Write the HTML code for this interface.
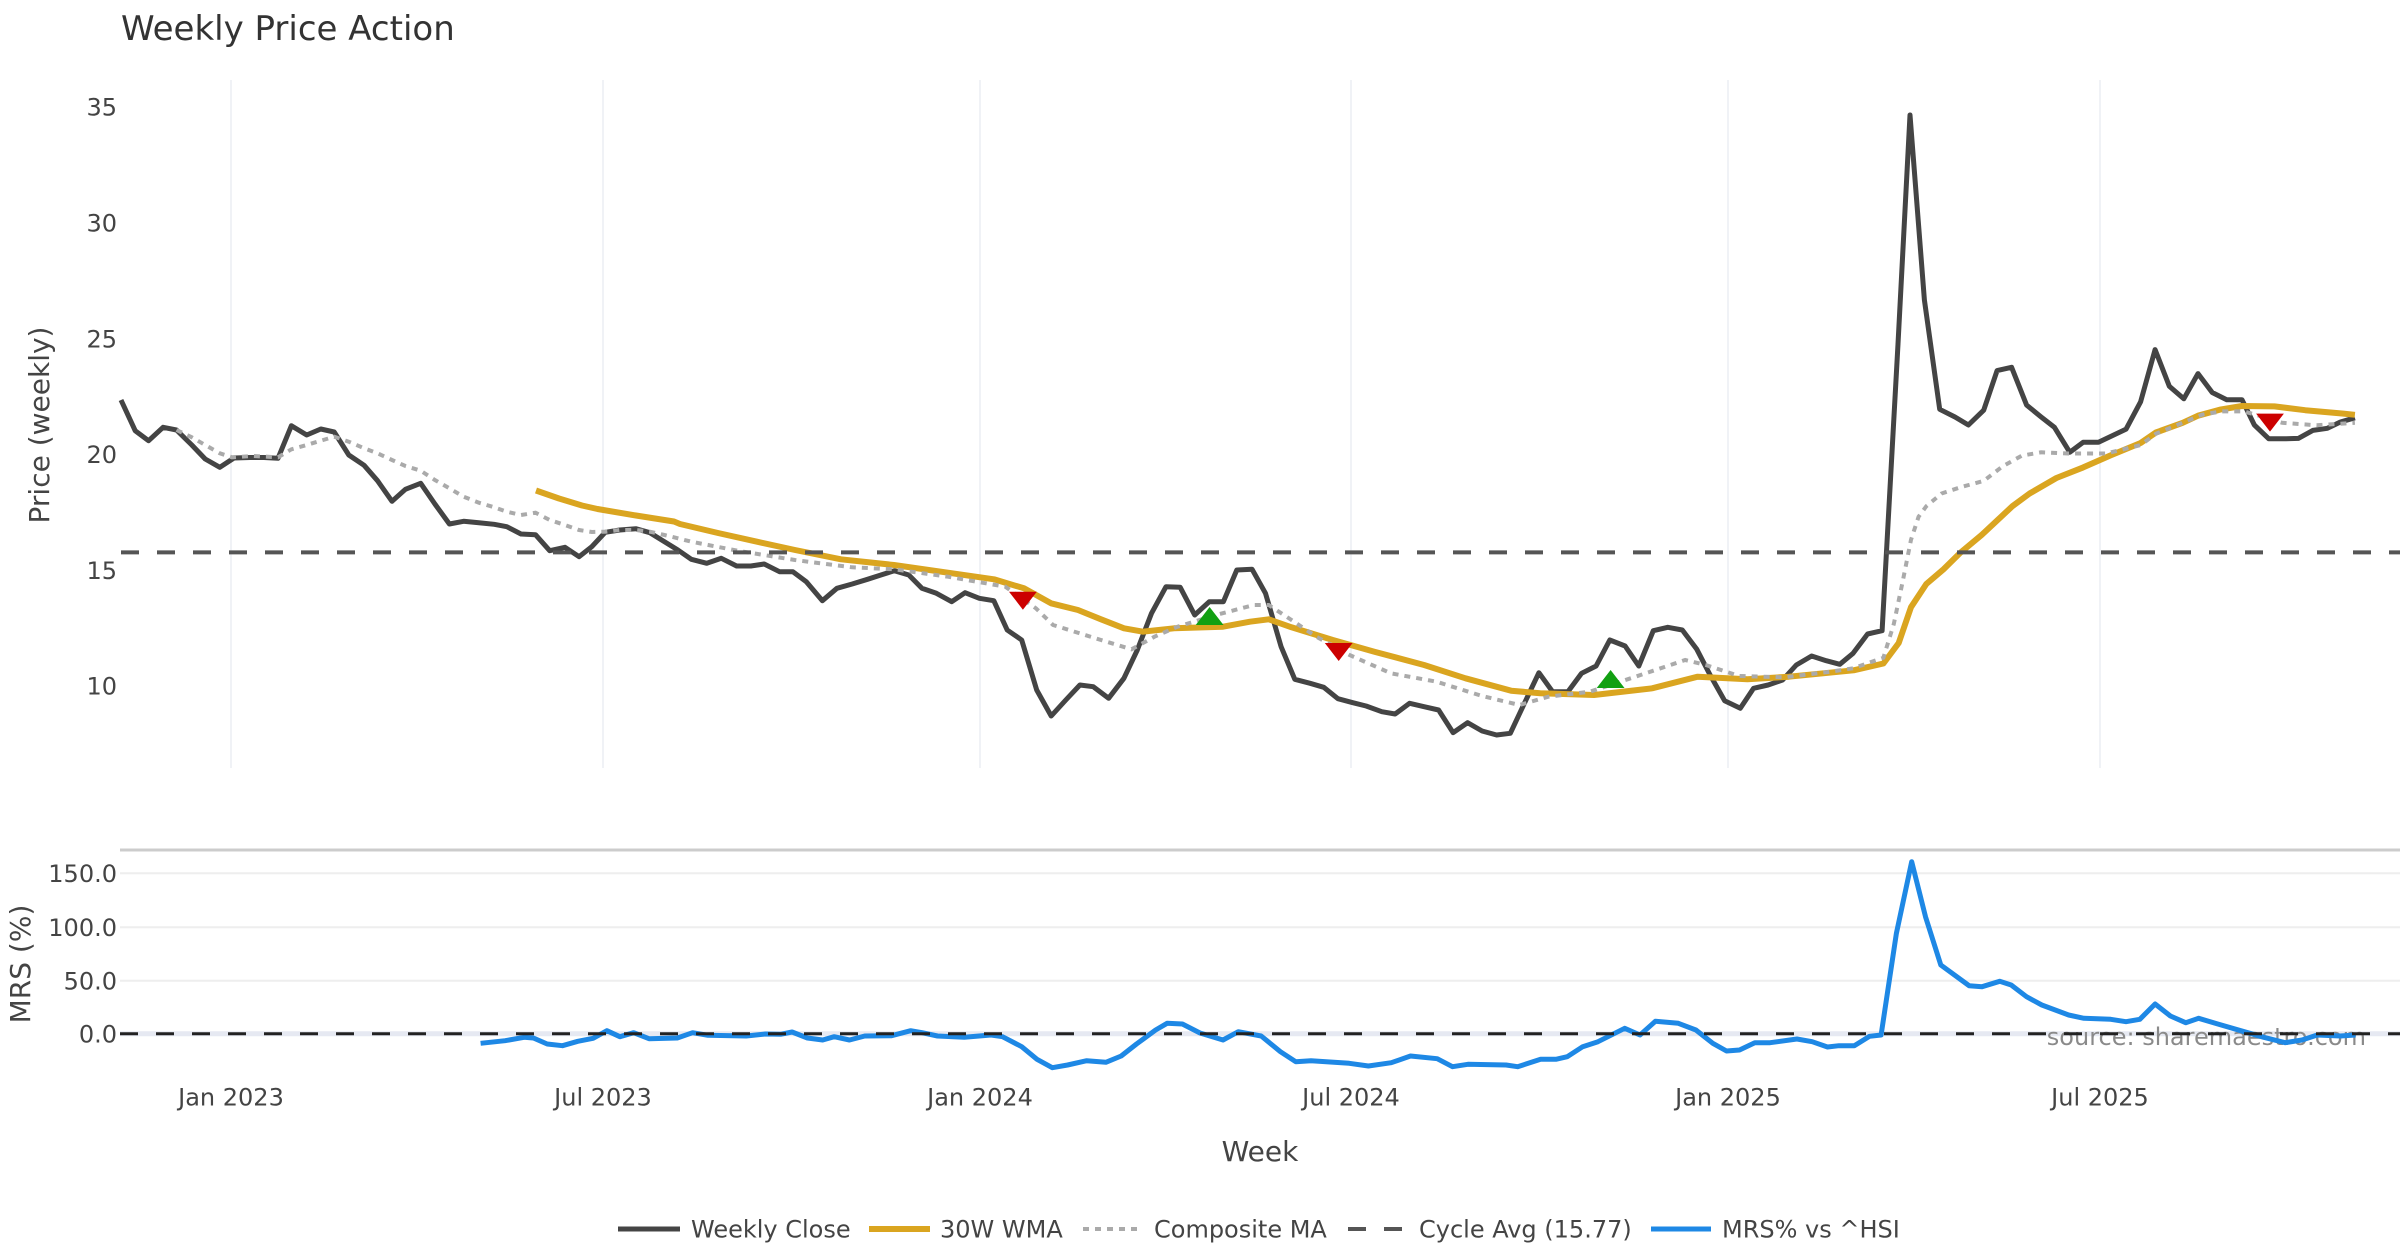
<!DOCTYPE html>
<html><head><meta charset="utf-8"><style>
html,body{margin:0;padding:0;background:#fff;}
svg{display:block;font-family:"DejaVu Sans","Liberation Sans",sans-serif;}
</style></head><body>
<svg width="2400" height="1260" viewBox="0 0 2400 1260" xmlns="http://www.w3.org/2000/svg">
<rect width="2400" height="1260" fill="#fff"/>
<text x="121" y="40" font-size="34" fill="#333">Weekly Price Action</text>

<!-- top panel grid -->
<g stroke="#f0f2f6" stroke-width="2">
<line x1="231" y1="80" x2="231" y2="768"/>
<line x1="603" y1="80" x2="603" y2="768"/>
<line x1="980" y1="80" x2="980" y2="768"/>
<line x1="1351" y1="80" x2="1351" y2="768"/>
<line x1="1728" y1="80" x2="1728" y2="768"/>
<line x1="2100" y1="80" x2="2100" y2="768"/>
</g>
<g font-size="24" fill="#444" text-anchor="end">
<text x="117" y="115.7">35</text>
<text x="117" y="231.5">30</text>
<text x="117" y="347.3">25</text>
<text x="117" y="463.1">20</text>
<text x="117" y="578.9">15</text>
<text x="117" y="694.7">10</text>
</g>
<text transform="translate(49,425) rotate(-90)" text-anchor="middle" font-size="28" fill="#444">Price (weekly)</text>

<!-- weekly close -->
<polyline fill="none" stroke="#444" stroke-width="5" stroke-linejoin="round" points="121,400 135.2,430.7 148.6,440.7 163.1,427.3 176.5,430 191.8,445 205.2,459 219.8,467.3 234,458 250,457.5 264,457.5 278,458.3 291.4,425.7 306.7,435 320.8,429 334.2,432 348.8,455 364.1,465.3 377.5,480.7 392,501.3 405.4,489.3 420.7,483.3 434.9,504 449.4,524 463.6,521.3 478.9,522.7 494.2,524.3 506.8,526.7 521,534 535.5,534.7 549.7,550.7 565,547.3 579.1,556.7 591.8,546.7 605.2,532.3 619.7,530 635.8,528.7 649.9,532.7 664.5,541.7 677.9,550 691.3,559.3 706.8,563.3 721.3,558.3 736.6,566 750.8,566 764.2,564 779.5,571.7 792.9,571.7 806.3,581.7 822.4,600.7 836.9,588.3 852.2,584 867.5,579.3 880.9,575 894.3,570.7 908.8,575 921.9,588.3 936.4,593.3 951.7,601.7 965.1,592.7 979.3,598.3 993.8,600.7 1007.2,630 1021.7,640 1036.7,690 1051.2,716 1065.8,700 1079.9,685 1093.3,686.7 1108.6,698.3 1123.9,678.3 1137.3,650 1151.5,613.3 1166,586.7 1180.2,587.3 1194.7,615 1209.3,601.7 1223.4,601.7 1236.8,570 1252.1,569.3 1265.5,593.3 1281.1,646.7 1294.8,679.3 1310.1,683.3 1323.8,687.3 1337.9,698.7 1352.8,702.7 1366.1,706 1381.8,711.7 1395.1,714 1409.6,703.3 1424.1,706.7 1438.6,710 1453.1,732.7 1467.6,722.7 1482.1,731 1496.6,735 1510.3,733.3 1524.4,703.3 1538.9,672.7 1552.6,691.7 1567.9,691.7 1581.6,673.3 1596.1,666 1609.8,640 1625.1,646 1638.8,666 1653.3,630.7 1667.8,627.3 1682.3,630 1696.8,649.3 1710.1,675 1724.6,700.7 1740.3,708.3 1753.6,688.3 1768.1,685 1782.6,680 1796.3,665 1811.6,656 1826.2,660.7 1839.8,664.3 1853.1,653.3 1867.6,634 1882.1,630.7 1898,344 1910,115 1924.4,300 1939.7,409.3 1955,417 1968.4,425 1983.7,410.2 1997.1,370.6 2011.6,367.3 2026.6,405.1 2041.1,416.9 2054.5,427.4 2069.8,452.3 2083.2,442.2 2098.5,442.2 2111.9,435.9 2126.1,429.1 2140.6,401.8 2155.1,349.6 2169.3,386.2 2183.8,398.8 2198,373.6 2212.2,392.5 2226.7,399.7 2242,399.7 2254.3,424.9 2268.8,438.8 2284.1,438.8 2298.3,438.4 2312.8,430.4 2327.4,428.3 2340.4,422 2354.9,417.8"/>

<!-- 30W WMA -->
<polyline fill="none" stroke="#DAA520" stroke-width="6" stroke-linejoin="round" points="536,490.5 559,498.5 582,505.5 597.5,509 636,515.5 674,521.5 680,524 718,533 757,541.7 795,550 841,559.3 894,565 948,572.7 994,579.3 1024,588.3 1051,603.3 1078,610 1101,619.3 1124,628.3 1143,631.7 1174,628.3 1223,626.7 1250,621.7 1268.7,619.3 1291.5,627.3 1332.9,640 1374.4,651.7 1424.1,665 1465.5,678.3 1511.1,690.7 1540.2,693.3 1594,695 1652.1,688.3 1697.7,676.7 1747.4,679.3 1788.9,676.7 1853.6,670.3 1883.4,663.5 1898.7,643 1911,607.2 1926.3,584 1943.5,569.3 1960.7,552.4 1981.8,534.8 2012.4,506.2 2029.6,493.5 2056.4,478 2083.2,467.4 2110,455.6 2140.6,443 2155.9,432.5 2182.7,422.8 2198,415.7 2221,409.4 2242,406 2274.5,406.4 2305.2,410.2 2343.4,413.6 2354.9,414.8"/>

<!-- Composite MA -->
<polyline fill="none" stroke="#aaaaaa" stroke-width="4" stroke-dasharray="6,6" points="176.5,430 191.8,437.3 205.2,445 219.8,453.3 232,457.3 253,456 278,457.3 291.4,449.3 306.7,445 320.8,440.7 334.2,436.7 348.8,441.7 364.1,448.3 377.5,453.3 392,460 405.4,466 420.7,470.7 434.9,480 449.4,488.3 463.6,496.7 478.9,502.7 494.2,507.3 506.8,511.7 521,515 535.5,512.7 549.7,520 565,525 579.1,530 591.8,532 605.2,531.7 619.7,530 635.8,530 649.9,531.7 664.5,535 677.9,538.3 691.3,541.7 737.4,550.7 794.8,560 852.2,567.3 894.3,569.3 947.9,576.7 1005.3,586.7 1035.9,608.3 1053.1,625 1101,640 1131.6,649.3 1154.5,636.7 1177.5,626.7 1215.8,615 1254,605 1268.7,605 1291.5,620 1316.3,636.7 1349.5,655 1390.9,673.3 1436.5,681.7 1482.1,696 1519.4,705 1548.4,696.7 1589.9,691.7 1635.5,676.7 1685.2,660 1705.9,665 1739.1,676 1784.7,677.3 1830.3,671.7 1853.6,668.2 1883.4,657.7 1893.8,624 1902.6,581.9 1911,539.8 1918.6,516.7 1926.3,506.2 1941.6,493.5 1960.7,487.2 1983.7,480.9 2002.8,466.2 2022,455.6 2041.1,452.3 2067.9,453.5 2106.2,453.5 2140.6,445.1 2155.9,433.8 2182.7,422.8 2201.8,414.8 2221,411.4 2243.9,411.4 2259.2,415.7 2282.2,422.8 2316.6,425.3 2354.9,422.8"/>

<!-- Cycle Avg -->
<line x1="121" y1="552.4" x2="2400" y2="552.4" stroke="#555" stroke-width="4" stroke-dasharray="18,18"/>

<!-- markers -->
<g fill="#cc0000">
<polygon points="1009,591.7 1036.8,591.7 1022.9,609.7"/>
<polygon points="1324.8,643 1352.6,643 1338.7,661"/>
<polygon points="2256.1,413.6 2283.9,413.6 2270,431.6"/>
</g>
<g fill="#12a012">
<polygon points="1195.7,625 1223.5,625 1209.6,607"/>
<polygon points="1596.7,688 1624.5,688 1610.6,670"/>
</g>

<!-- bottom panel -->
<line x1="120" y1="850" x2="2400" y2="850" stroke="#cccccc" stroke-width="3"/>
<g stroke="#eeeeee" stroke-width="2">
<line x1="120" y1="873.3" x2="2400" y2="873.3"/>
<line x1="120" y1="927.3" x2="2400" y2="927.3"/>
<line x1="120" y1="980.7" x2="2400" y2="980.7"/>
</g>
<line x1="120" y1="1033.7" x2="2400" y2="1033.7" stroke="#e6e9f2" stroke-width="5"/>
<g font-size="24" fill="#444" text-anchor="end">
<text x="117" y="882">150.0</text>
<text x="117" y="936">100.0</text>
<text x="117" y="989.4">50.0</text>
<text x="117" y="1042.4">0.0</text>
</g>
<text transform="translate(30,964) rotate(-90)" text-anchor="middle" font-size="28" fill="#444">MRS (%)</text>

<text x="2366" y="1045" text-anchor="end" font-size="24" fill="#8a8a8a">source: sharemaestro.com</text>

<polyline fill="none" stroke="#1E88E5" stroke-width="5" stroke-linejoin="round" points="480.6,1043.3 505.1,1040.7 524.2,1037.3 533.4,1038 547.2,1044 562.5,1045.7 577.8,1041.3 593.1,1038.3 606.9,1030.7 619.9,1036.7 633.7,1032.7 649,1038.7 677.3,1038 692.6,1032.7 707.9,1035.3 746.2,1036 765.3,1034 780.6,1034.3 792.1,1032 807.4,1038 822.7,1040 834.2,1036.7 849.5,1040 864.8,1036 891.6,1035.7 910.7,1030.7 922.2,1032.7 937.5,1036 964.3,1037.3 991.1,1035 1002.5,1036.7 1021.7,1046.7 1037,1059.3 1052.3,1067.7 1067.6,1065 1086.7,1060.7 1105.9,1062.3 1121.2,1056 1136.5,1044 1155.6,1030 1167.1,1023.3 1182.4,1024 1200,1033 1223,1040 1238.3,1031.7 1261.2,1036 1280.4,1051.7 1295.7,1061.7 1311,1060.7 1349.2,1063.3 1368.4,1066 1391.3,1062.7 1410.5,1056 1437.2,1058.7 1452.5,1066.7 1467.9,1064.3 1506.1,1065 1517.6,1066.7 1540.6,1059.3 1555.9,1059.3 1567.3,1056.7 1582.7,1046.7 1598,1041.7 1624.7,1028.3 1640,1035 1655.4,1021.3 1678.3,1023.3 1695.9,1030 1712.8,1043.3 1726.5,1051 1739.5,1050 1754.8,1042.7 1770.1,1042.7 1796.9,1039 1812.2,1041.7 1827.5,1047 1839,1045.7 1854.3,1045.7 1869.6,1036.3 1881.1,1035 1896.4,933.3 1911.7,861.7 1925.5,916.7 1940.8,965 1969.1,985.7 1982.1,986.7 1999.7,981.3 2011.2,985 2026.5,996.7 2041.8,1005 2068.6,1015 2083.9,1018.3 2110.7,1019.3 2126,1021.7 2139.8,1019.3 2155.1,1004 2170.4,1016 2185.7,1022.7 2198.7,1018.3 2217.8,1024 2240.8,1030.7 2263.8,1037.3 2285.2,1042.7 2302,1040 2317.3,1035 2340.3,1036 2355.6,1035"/>
<line x1="120" y1="1033.7" x2="2400" y2="1033.7" stroke="#222" stroke-width="3" stroke-dasharray="18,18"/>

<!-- x axis labels -->
<g font-size="24" fill="#444" text-anchor="middle">
<text x="231" y="1105.5">Jan 2023</text>
<text x="603" y="1105.5">Jul 2023</text>
<text x="980" y="1105.5">Jan 2024</text>
<text x="1351" y="1105.5">Jul 2024</text>
<text x="1728" y="1105.5">Jan 2025</text>
<text x="2100" y="1105.5">Jul 2025</text>
</g>
<text x="1260" y="1161" text-anchor="middle" font-size="28" fill="#444">Week</text>

<!-- legend -->
<line x1="618" y1="1229" x2="680" y2="1229" stroke="#444" stroke-width="5"/>
<text x="691" y="1237.5" font-size="24" fill="#444">Weekly Close</text>
<line x1="869" y1="1229" x2="930" y2="1229" stroke="#DAA520" stroke-width="6"/>
<text x="940" y="1237.5" font-size="24" fill="#444">30W WMA</text>
<line x1="1083" y1="1229" x2="1141" y2="1229" stroke="#aaaaaa" stroke-width="4" stroke-dasharray="6,6"/>
<text x="1154" y="1237.5" font-size="24" fill="#444">Composite MA</text>
<line x1="1348" y1="1229" x2="1403" y2="1229" stroke="#555" stroke-width="4" stroke-dasharray="18,18"/>
<text x="1419" y="1237.5" font-size="24" fill="#444">Cycle Avg (15.77)</text>
<line x1="1651" y1="1229" x2="1711" y2="1229" stroke="#1E88E5" stroke-width="5"/>
<text x="1722" y="1237.5" font-size="24" fill="#444">MRS% vs ^HSI</text>
</svg>
</body></html>
